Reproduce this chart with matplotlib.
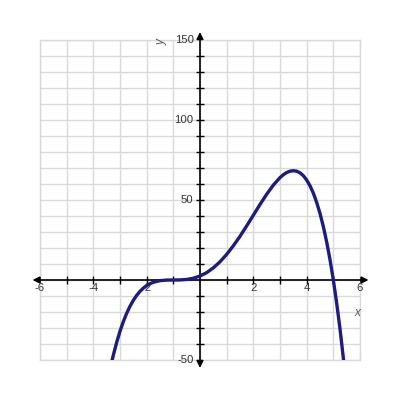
import numpy as np
import matplotlib
matplotlib.use("Agg")
import matplotlib.pyplot as plt

# points
x_vals = [-3.3, -3.25, -3.125, -3.0, -2.875, -2.75, -2.625, -2.5, -2.375, -2.25,
          -2.125, -2.0, -1.875, -1.75, -1.5, -1.25, -1.0,
          -0.75, -0.5, -0.25, 0.0, 0.25, 0.5, 0.75, 1.0, 1.25, 1.5, 1.75, 2.0,
          2.25, 2.5, 2.75, 3.0, 3.125, 3.25, 3.375, 3.5, 3.625, 3.75, 3.875,
          4.0, 4.125, 4.25, 4.375, 4.5, 4.625, 4.75, 4.875, 5.0,
          5.125, 5.25, 5.4]
y_vals = [-50.5, -47.0, -39.0, -32.0, -26.0, -20.8, -16.4, -12.7, -9.6, -7.1,
          -5.1, -3.5, -2.3, -1.4, -0.4, -0.05, 0.0,
          0.04, 0.34, 1.1, 2.5, 4.6, 7.6, 11.4, 16.0, 21.4, 27.3, 33.8, 40.5,
          47.2, 53.6, 59.3, 64.0, 65.8, 67.2, 68.0, 68.3, 68.0, 67.0, 65.2,
          62.5, 58.9, 54.3, 48.5, 41.6, 33.4, 23.8, 12.7, 0.0,
          -14.4, -30.5, -52.4]

x_labels = [-6, -4, -2, 2, 4, 6]
y_labels = [150, 100, 50, -50]

plt.rcParams["font.family"] = ["Liberation Sans", "DejaVu Sans"]

fig = plt.figure(figsize=(4, 4), dpi=100)
ax = fig.add_axes([0.1, 0.1, 0.8, 0.8])
ax.set_xlim(-6, 6)
ax.set_ylim(-50, 150)

# light grid
ax.set_xticks(np.arange(-6, 7, 1))
ax.set_yticks(np.arange(-50, 151, 10))
ax.tick_params(length=0, labelbottom=False, labelleft=False)
ax.grid(True, color="#d9d9d9", linewidth=1.0)
for s in ax.spines.values():
    s.set_color("#d9d9d9")
    s.set_linewidth(1.0)

# main axes with arrows
ax.annotate("", xy=(6.32, 0), xytext=(-6.28, 0), annotation_clip=False,
            arrowprops=dict(arrowstyle="<|-|>", color="black", lw=1.2,
                            mutation_scale=10, shrinkA=0, shrinkB=0))
ax.annotate("", xy=(0, 155), xytext=(0, -55), annotation_clip=False,
            arrowprops=dict(arrowstyle="<|-|>", color="black", lw=1.2,
                            mutation_scale=10, shrinkA=0, shrinkB=0))

# little tick marks across the axes
xt = np.arange(-5, 6, 1)
ax.plot(xt[xt != 0], np.zeros(10), linestyle="none", marker="|",
        color="black", markersize=6, markeredgewidth=1, clip_on=False)
yt = np.arange(-40, 150, 10)
ax.plot(np.zeros(len(yt[yt != 0])), yt[yt != 0], linestyle="none", marker="_",
        color="black", markersize=6, markeredgewidth=1, clip_on=False)

# tick labels
for v in x_labels:
    ax.text(v, -4.8, str(v), ha="center", va="center", fontsize=8.2,
            color="#333333", clip_on=False)
for v in y_labels:
    ax.text(-0.24, v, str(v), ha="right", va="center", fontsize=8.2,
            color="#333333", clip_on=False)

ax.text(5.89, -20.6, "x", ha="center", va="center", fontsize=8.5,
        style="italic", color="#555555")
ax.text(-1.45, 149, "y", ha="center", va="center", fontsize=8.5,
        style="italic", color="#555555", rotation=90, clip_on=False)

# the curve
ax.plot(x_vals, y_vals, color="#1b1b82", linewidth=2.4,
        solid_joinstyle="round", zorder=5)

fig.savefig("out.png", dpi=100)
